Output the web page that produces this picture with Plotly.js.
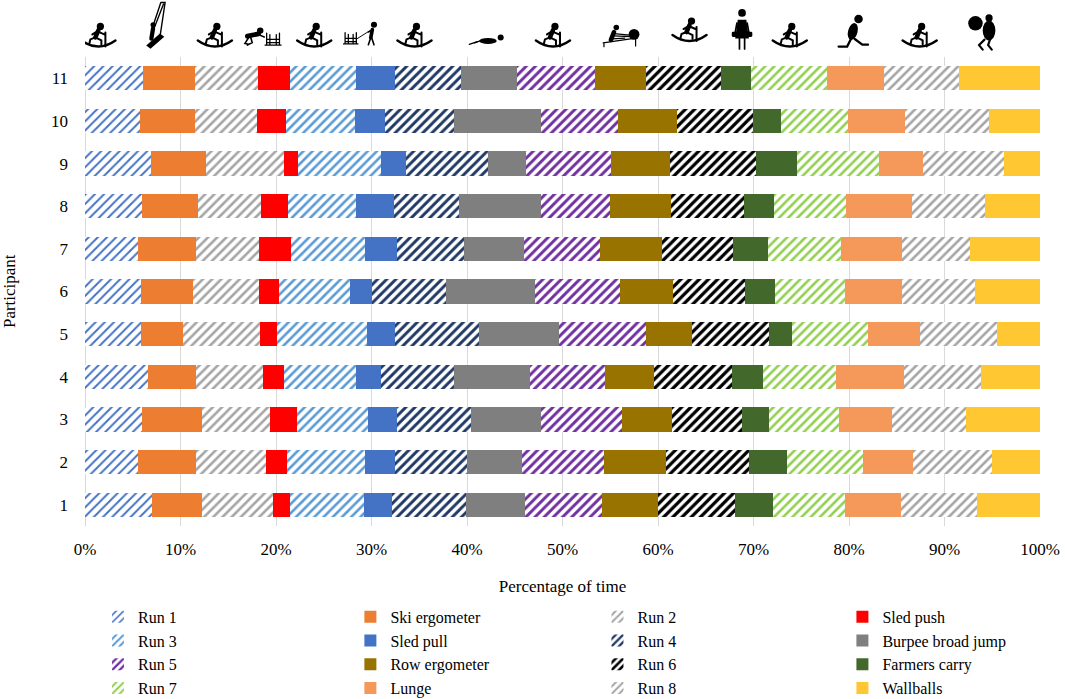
<!DOCTYPE html>
<html>
<head>
<meta charset="utf-8">
<script src="https://cdn.plot.ly/plotly-3.0.1.min.js"></script>
<style>html,body{margin:0;padding:0;background:#fff;}#chart{width:1065px;height:699px;}</style>
</head>
<body>
<div id="chart"></div>
<script>
// Participants (bottom to top)
const participants = ['1','2','3','4','5','6','7','8','9','10','11'];

// Percentage of total time per segment, participant 1..11
const run1      = [7.0,5.5,6.0,6.6,5.9,5.9,5.5,6.0,6.9,5.8,6.1];
const skiErg    = [5.2,6.1,6.3,5.0,4.4,5.4,6.1,5.8,5.8,5.7,5.4];
const run2      = [7.5,7.3,7.1,7.0,8.0,6.9,6.6,6.6,8.1,6.5,6.6];
const sledPush  = [1.8,2.2,2.8,2.2,1.8,2.1,3.4,2.9,1.5,3.0,3.4];
const run3      = [7.7,8.2,7.4,7.6,9.4,7.4,7.7,7.1,8.7,7.3,6.9];
const sledPull  = [2.9,3.2,3.1,2.6,3.0,2.4,3.4,4.0,2.6,3.1,4.1];
const run4      = [7.8,7.5,7.7,7.6,8.8,7.7,7.0,6.8,8.6,7.2,6.9];
const burpee    = [6.2,5.8,7.3,8.0,8.3,9.3,6.3,8.6,4.0,9.2,5.8];
const run5      = [8.0,8.5,8.5,7.9,9.1,8.9,7.9,7.2,8.9,8.0,8.2];
const rowErg    = [5.9,6.5,5.3,5.1,4.9,5.6,6.5,6.4,6.2,6.2,5.3];
const run6      = [8.1,8.7,7.3,8.1,8.0,7.5,7.5,7.6,9.0,7.9,7.9];
const farmers   = [3.9,4.0,2.8,3.3,2.4,3.1,3.6,3.1,4.3,3.0,3.1];
const run7      = [7.6,8.0,7.3,7.6,8.0,7.4,7.7,7.6,8.5,7.0,8.0];
const lunge     = [5.8,5.2,5.6,7.2,5.4,5.9,6.4,6.9,4.7,6.0,6.0];
const run8      = [8.0,8.3,7.8,8.0,8.1,7.7,7.1,7.6,8.4,8.8,7.8];
const wallballs = [6.6,5.0,7.7,6.2,4.5,6.8,7.3,5.8,3.8,5.3,8.5];

const seriesNames = ['Run 1','Ski ergometer','Run 2','Sled push','Run 3','Sled pull','Run 4','Burpee broad jump',
  'Run 5','Row ergometer','Run 6','Farmers carry','Run 7','Lunge','Run 8','Wallballs'];
const seriesValues = [run1,skiErg,run2,sledPush,run3,sledPull,run4,burpee,run5,rowErg,run6,farmers,run7,lunge,run8,wallballs];
const xTicks = [0,10,20,30,40,50,60,70,80,90,100];
const xTickText = ['0%','10%','20%','30%','40%','50%','60%','70%','80%','90%','100%'];
const xTitle = 'Percentage of time';
const yTitle = 'Participant';

// Styles
const styles = [
  {c:'#4472C4', hatch:true, sol:0.3},
  {c:'#ED7D31'},
  {c:'#A5A5A5', hatch:true, sol:0.4},
  {c:'#FF0000'},
  {c:'#5B9BD5', hatch:true, sol:0.4},
  {c:'#4472C4'},
  {c:'#1F3864', hatch:true, sol:0.45},
  {c:'#7F7F7F'},
  {c:'#7030A0', hatch:true, sol:0.45},
  {c:'#997300'},
  {c:'#000000', hatch:true, sol:0.5},
  {c:'#43682B'},
  {c:'#92D050', hatch:true, sol:0.4},
  {c:'#F4995A'},
  {c:'#A5A5A5', hatch:true, sol:0.4},
  {c:'#FFC832'}
];

const legendIds = ['legend','legend2','legend3','legend4'];

const traces = seriesNames.map((name,i)=>{
  const st = styles[i];
  const marker = st.hatch
    ? {color:st.c, pattern:{shape:'/', fgcolor:st.c, bgcolor:'#FFFFFF', fgopacity:1, size:6.5, solidity:st.sol, fillmode:'replace'}, line:{width:0}}
    : {color:st.c, line:{width:0}};
  return {type:'bar', orientation:'h', name:name, y:participants, x:seriesValues[i], marker:marker,
    hoverinfo:'name+x', legend:legendIds[i % 4]};
});

// Decorative pictograms above the bars
const S = s => 'data:image/svg+xml;charset=utf-8,' + encodeURIComponent(s);
const runIcon = S("<svg xmlns='http://www.w3.org/2000/svg' viewBox='0 0 40 32'><g stroke='black' stroke-linecap='round' fill='none'><path d='M3 21 Q20 33 37 21' stroke-width='2.4'/><path d='M20 11 L17 18' stroke-width='4.5'/><path d='M19 12 L26 15 M19 12 L14 15 M17 18 L23 21 L23 25 M17 18 L12 20 L11 24 M27 13 L27 27' stroke-width='2'/></g><circle cx='22' cy='7' r='3.6'/></svg>");
const skiIcon = S("<svg xmlns='http://www.w3.org/2000/svg' viewBox='0 0 30 60'><g stroke='black' fill='none' stroke-linecap='round'><path d='M21 2 L26 2 L20 42 M21 2 L11 32 M24 4 L14 30' stroke-width='1.6'/><path d='M12 32 L10 44' stroke-width='5'/></g><circle cx='12' cy='28' r='3'/><path d='M4 52 L20 38 L25 42 L9 56 Z'/></svg>");
const pushIcon = S("<svg xmlns='http://www.w3.org/2000/svg' viewBox='0 0 50 30'><g stroke='black' fill='none' stroke-linecap='round'><path d='M6 16 L20 13' stroke-width='6'/><path d='M20 14 L27 17 M8 17 L3 25 L8 26 M10 17 L12 24 L6 27' stroke-width='2'/><path d='M28 27 L48 27 M30 12 L30 27 M34 14 L34 27 M42 14 L42 27 M46 12 L46 27 M30 20 L46 20 M30 24 L46 24' stroke-width='1.6'/></g><circle cx='22' cy='9' r='4'/></svg>");
const pullIcon = S("<svg xmlns='http://www.w3.org/2000/svg' viewBox='0 0 50 34'><g stroke='black' fill='none' stroke-linecap='round'><path d='M2 30 L20 30 M4 16 L4 30 M8 18 L8 30 M14 18 L14 30 M18 16 L18 30 M4 23 L18 23 M4 27 L18 27' stroke-width='1.6'/><path d='M18 24 L34 14' stroke-width='1.2'/><path d='M38 12 L36 22' stroke-width='4.5'/><path d='M36 22 L33 31 M37 22 L40 31 M37 13 L33 15' stroke-width='2'/></g><circle cx='40' cy='6' r='3.8'/></svg>");
const burpeeIcon = S("<svg xmlns='http://www.w3.org/2000/svg' viewBox='0 0 60 30'><g stroke='black' fill='none' stroke-linecap='round'><path d='M14 20 L2 24' stroke-width='2'/><path d='M18 19 L10 22' stroke-width='2'/></g><ellipse cx='30' cy='19' rx='13' ry='4.5'/><circle cx='49' cy='14' r='4.5'/></svg>");
const rowIcon = S("<svg xmlns='http://www.w3.org/2000/svg' viewBox='0 0 52 32'><g stroke='black' fill='none' stroke-linecap='round'><path d='M2 25 L44 19 M3 25 L3 30 M44 19 L44 29' stroke-width='1.6'/><path d='M12 21 L16 11' stroke-width='6'/><path d='M16 13 L36 15 M16 16 L36 17 M14 20 L30 19' stroke-width='1.6'/></g><circle cx='19' cy='5' r='3.6'/><circle cx='42' cy='14' r='7'/></svg>");
const farmIcon = S("<svg xmlns='http://www.w3.org/2000/svg' viewBox='0 0 30 52'><g stroke='black' fill='none' stroke-linecap='round'><path d='M12 36 L12 48 M18 36 L18 48 M9 18 L7 29 M21 18 L23 29' stroke-width='2'/></g><circle cx='15' cy='6' r='4.5'/><path d='M10 14 L20 14 L23 36 L7 36 Z'/><rect x='3' y='28' width='7' height='6' rx='1.5'/><rect x='20' y='28' width='7' height='6' rx='1.5'/></svg>");
const lungeIcon = S("<svg xmlns='http://www.w3.org/2000/svg' viewBox='0 0 40 42'><g stroke='black' fill='none' stroke-linecap='round'><path d='M16 28 L12 36 L3 36 M20 28 L28 34 L34 34' stroke-width='2.4'/></g><ellipse cx='18' cy='20' rx='5' ry='9' transform='rotate(15 18 20)'/><circle cx='24' cy='7' r='4.5'/></svg>");
const wallIcon = S("<svg xmlns='http://www.w3.org/2000/svg' viewBox='0 0 40 44'><g stroke='black' fill='none' stroke-linecap='round'><path d='M22 30 L16 36 L20 41 M28 30 L26 36 L30 41' stroke-width='2.4'/></g><ellipse cx='27' cy='20' rx='7' ry='11'/><circle cx='12' cy='12' r='8'/><circle cx='27' cy='6' r='4'/></svg>");

const iconSrc = [runIcon,skiIcon,runIcon,pushIcon,runIcon,pullIcon,runIcon,burpeeIcon,runIcon,rowIcon,runIcon,farmIcon,runIcon,lungeIcon,runIcon,wallIcon];
const iconX = [1.4,7.4,13.6,18.6,24.0,29.0,34.5,42.2,49.0,56.2,63.3,68.8,73.8,80.6,87.4,94.0];
const iconH = [0.072,0.11,0.072,0.072,0.072,0.08,0.072,0.06,0.072,0.07,0.095,0.095,0.072,0.085,0.072,0.085];
const images = iconSrc.map((src,i)=>({source:src, xref:'x', yref:'paper', x:iconX[i], y:1.01, xanchor:'center', yanchor:'bottom',
  sizex:4.2, sizey:iconH[i], sizing:'contain', layer:'above'}));

const font = {family:'Liberation Serif', size:17, color:'#000'};
const legendFont = {family:'Liberation Serif', size:16, color:'#000'};

const legendBase = {orientation:'v', xref:'container', yref:'container', y:0.142, xanchor:'left', yanchor:'top',
  traceorder:'normal', font:legendFont, itemwidth:30, tracegroupgap:0, bgcolor:'rgba(0,0,0,0)'};
const legendX = [0.092, 0.329, 0.561, 0.791];

const layout = {
  width:1065, height:699,
  margin:{l:85, r:25, t:57, b:173, autoexpand:false},
  barmode:'stack',
  bargap:0.43,
  paper_bgcolor:'#fff', plot_bgcolor:'#fff',
  font:font,
  showlegend:true,
  xaxis:{
    range:[0,100], tickmode:'array', tickvals:xTicks, ticktext:xTickText,
    showgrid:true, gridcolor:'#D9D9D9', gridwidth:1,
    zeroline:true, zerolinecolor:'#D9D9D9', zerolinewidth:1,
    showline:false, ticks:'', ticklabelstandoff:11,
    tickfont:font, fixedrange:true,
    title:{text:xTitle, font:font, standoff:22}
  },
  yaxis:{
    type:'category', categoryorder:'array', categoryarray:participants,
    showgrid:false, zeroline:false, showline:false, ticks:'', ticklabelstandoff:16,
    tickfont:font, fixedrange:true
  },
  annotations:[{text:yTitle, xref:'paper', yref:'paper', x:-0.079, y:0.5, xanchor:'center', yanchor:'middle',
    textangle:-90, showarrow:false, font:font}],
  legend:Object.assign({}, legendBase, {x:legendX[0]}),
  legend2:Object.assign({}, legendBase, {x:legendX[1]}),
  legend3:Object.assign({}, legendBase, {x:legendX[2]}),
  legend4:Object.assign({}, legendBase, {x:legendX[3]}),
  images:images
};

Plotly.newPlot('chart', traces, layout, {displayModeBar:false, staticPlot:true});
</script>
</body>
</html>
